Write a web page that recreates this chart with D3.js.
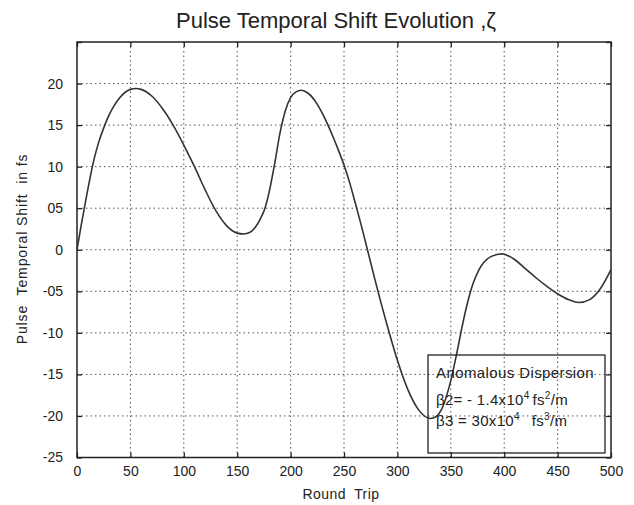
<!DOCTYPE html>
<html>
<head>
<meta charset="utf-8">
<script src="https://cdn.jsdelivr.net/npm/d3@7"></script>
<style>
  html, body { margin: 0; padding: 0; background: #fff; }
  svg { display: block; }
  text { font-family: "Liberation Sans", Arial, sans-serif; fill: #222; }
</style>
</head>
<body>
<svg id="chart" width="634" height="505"></svg>
<script>
// ---- data ----
const roundTrip = [0,4,8,12,16,20,26,30,40,50,55,60,70,80,90,100,110,120,130,140,150,156,162,167,172,176,180,185,190,195,200,205,210,215,220,225,230,235,240,245,250,255,260,265,270,280,290,300,310,320,331,336,341,346,351,356,361,366,371,376,381,388,398,410,420,430,440,450,460,470,480,490,500];
const shift = [0,3,5.8,8.5,10.9,12.8,15,16.2,18.3,19.3,19.4,19.3,18.5,17.0,15.0,12.6,10,7.2,4.7,2.9,2.0,1.9,2.1,2.7,3.8,5.0,7.0,10.3,14.0,16.7,18.3,19.0,19.2,18.95,18.4,17.5,16.35,15.0,13.5,11.9,10.2,8.2,5.9,3.5,1.0,-4.1,-8.9,-13.3,-16.9,-19.3,-20.3,-20.1,-19.3,-17.6,-15.2,-12.2,-9.0,-6.2,-4.0,-2.5,-1.5,-0.8,-0.5,-1.2,-2.3,-3.4,-4.4,-5.3,-6.0,-6.35,-6.0,-4.7,-2.4];
const xTicks = [0,50,100,150,200,250,300,350,400,450,500];
const xTickLabels = ["0","50","100","150","200","250","300","350","400","450","500"];
const yTicks = [-25,-20,-15,-10,-5,0,5,10,15,20,25];
const yTickLabels = ["-25","-20","-15","-10","-05","0","05","10","15","20",""];
const titleText = "Pulse Temporal Shift Evolution ,\u03B6";
const xLabel = "Round  Trip";
const yLabel = "Pulse  Temporal Shift  in fs";

// ---- layout ----
const svg = d3.select("#chart");
const L = 77, R = 611, T = 42, B = 457.5;
const x = d3.scaleLinear().domain([0, 500]).range([L, R]);
const y = d3.scaleLinear().domain([-25, 25]).range([B, T]);

// grid
const grid = svg.append("g").attr("stroke", "#555").attr("stroke-width", 1).attr("stroke-dasharray", "1.5,3");
grid.selectAll("line.gx").data(xTicks.slice(1, -1)).join("line")
  .attr("x1", d => x(d)).attr("x2", d => x(d)).attr("y1", T).attr("y2", B);
grid.selectAll("line.gy").data(yTicks.slice(1, -1)).join("line")
  .attr("x1", L).attr("x2", R).attr("y1", d => y(d)).attr("y2", d => y(d));

// axes (ticks inward, MATLAB style)
const tickLen = 5;
const xAxisB = d3.axisBottom(x).tickValues(xTicks).tickSize(-tickLen).tickPadding(9)
  .tickFormat((d, i) => xTickLabels[i]);
const xAxisT = d3.axisTop(x).tickValues(xTicks).tickSize(-tickLen).tickFormat("");
const yAxisL = d3.axisLeft(y).tickValues(yTicks).tickSize(-tickLen).tickPadding(14)
  .tickFormat((d, i) => yTickLabels[i]);
const yAxisR = d3.axisRight(y).tickValues(yTicks).tickSize(-tickLen).tickFormat("");

function style(g) {
  g.select(".domain").remove();
  g.selectAll(".tick line").attr("stroke", "#222").attr("stroke-width", 1.3);
  g.selectAll(".tick text").attr("font-size", 14).attr("fill", "#222")
    .attr("font-family", "Liberation Sans, Arial, sans-serif");
}
svg.append("g").attr("transform", `translate(0,${B})`).call(xAxisB).call(style);
svg.append("g").attr("transform", `translate(0,${T})`).call(xAxisT).call(style);
svg.append("g").attr("transform", `translate(${L},0)`).call(yAxisL).call(style);
svg.append("g").attr("transform", `translate(${R},0)`).call(yAxisR).call(style);

// frame
svg.append("rect").attr("x", L).attr("y", T).attr("width", R - L).attr("height", B - T)
  .attr("fill", "none").attr("stroke", "#222").attr("stroke-width", 1.5);

// curve
const pts = roundTrip.map((d, i) => [d, shift[i]]);
const line = d3.line().x(d => x(d[0])).y(d => y(d[1])).curve(d3.curveMonotoneX);
svg.append("path").datum(pts).attr("d", line)
  .attr("fill", "none").attr("stroke", "#333").attr("stroke-width", 1.6);

// legend box
const lg = svg.append("g");
lg.append("rect").attr("x", 428).attr("y", 355).attr("width", 177).attr("height", 98)
  .attr("fill", "none").attr("stroke", "#222").attr("stroke-width", 1.3);
lg.append("text").attr("x", 436).attr("y", 378).attr("font-size", 15).attr("letter-spacing", 0.4)
  .text("Anomalous Dispersion");
const t2 = lg.append("text").attr("x", 436).attr("y", 405).attr("font-size", 15).attr("letter-spacing", 0.3);
t2.append("tspan").text("\u03B22= - 1.4x10");
t2.append("tspan").attr("font-size", 10).attr("dy", -6).text("4");
t2.append("tspan").attr("dy", 6).attr("dx", 3).text("fs");
t2.append("tspan").attr("font-size", 10).attr("dy", -6).text("2");
t2.append("tspan").attr("dy", 6).text("/m");
const t3 = lg.append("text").attr("x", 436).attr("y", 426).attr("font-size", 15).attr("letter-spacing", 0.3);
t3.append("tspan").text("\u03B23 = 30x10");
t3.append("tspan").attr("font-size", 10).attr("dy", -6).text("4");
t3.append("tspan").attr("dy", 6).attr("dx", 12).text("fs");
t3.append("tspan").attr("font-size", 10).attr("dy", -6).text("3");
t3.append("tspan").attr("dy", 6).text("/m");

// title & labels
svg.append("text").attr("x", 336).attr("y", 28).attr("text-anchor", "middle")
  .attr("font-size", 22).text(titleText);
svg.append("text").attr("x", 341).attr("y", 499).attr("text-anchor", "middle")
  .attr("font-size", 14).attr("letter-spacing", 0.4).attr("xml:space", "preserve").text(xLabel);
svg.append("text").attr("transform", "translate(27,249) rotate(-90)").attr("text-anchor", "middle")
  .attr("font-size", 14).attr("letter-spacing", 0.9).attr("xml:space", "preserve").text(yLabel);
</script>
</body>
</html>
